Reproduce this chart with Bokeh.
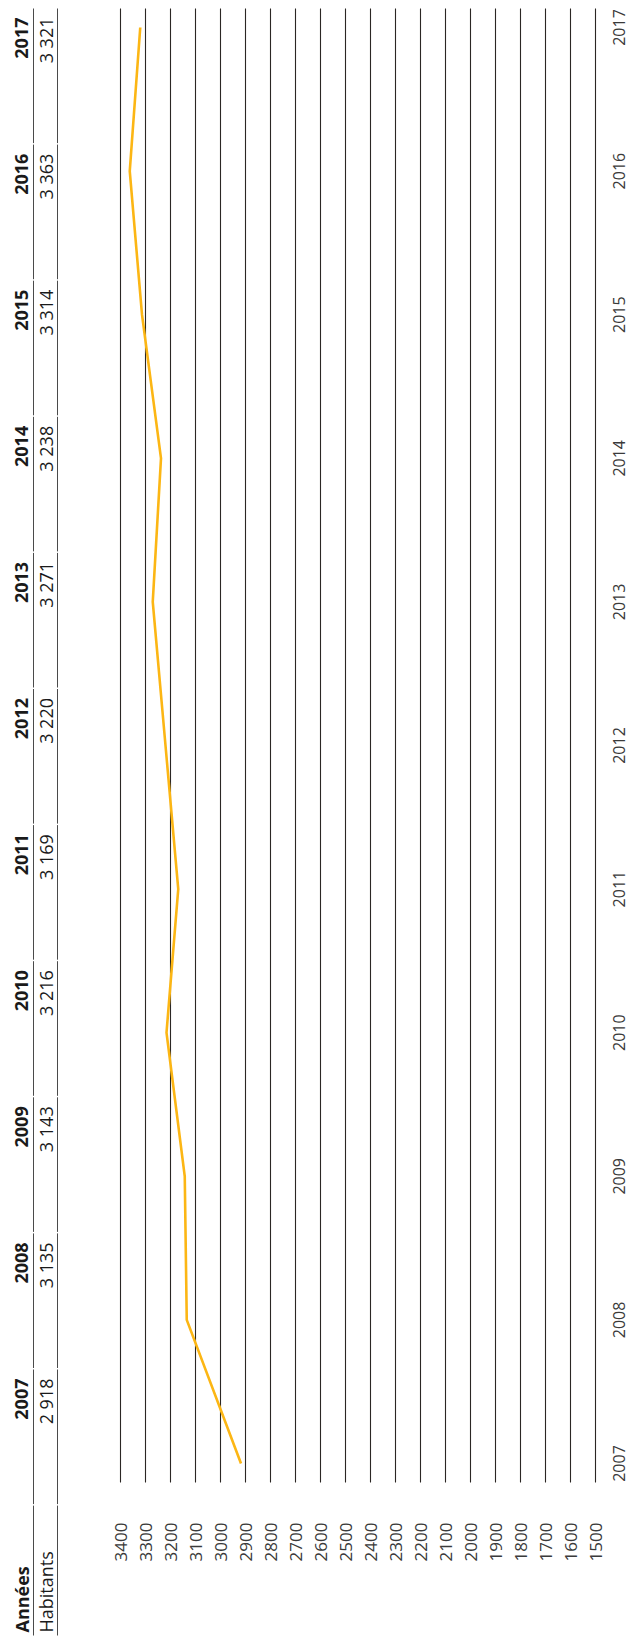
from math import pi
from bokeh.plotting import figure
from bokeh.models import Range1d
from bokeh.core.properties import value
from bokeh.embed import file_html
from bokeh.resources import INLINE

# ---------------- data ----------------
years = [2007, 2008, 2009, 2010, 2011, 2012, 2013, 2014, 2015, 2016, 2017]
habitants = [2918, 3135, 3143, 3216, 3169, 3220, 3271, 3238, 3314, 3363, 3321]
habitant_labels = ["2 918", "3 135", "3 143", "3 216", "3 169", "3 220",
                   "3 271", "3 238", "3 314", "3 363", "3 321"]
year_labels = ["2007", "2008", "2009", "2010", "2011", "2012",
               "2013", "2014", "2015", "2016", "2017"]
tick_values = [3400, 3300, 3200, 3100, 3000, 2900, 2800, 2700, 2600, 2500,
               2400, 2300, 2200, 2100, 2000, 1900, 1800, 1700, 1600, 1500]
tick_labels = [str(t) for t in tick_values]
header_years = "Années"
header_hab = "Habitants"

# ---------------- layout (pixels from the page's top-left) ----------------
W, H = 630, 1641
PX_PER_UNIT = 0.25          # horizontal px per inhabitant
X_PX_3400 = 120             # px from left of the 3400 line
PX_PER_YEAR = 143.6
Y_PX_2007 = 1463            # px from top of year 2007
TAB_PX_PER_COL = 136.1
TAB_PX_2017 = 17            # px from top where 2017 column text ends

x_start = 3400 + X_PX_3400 / PX_PER_UNIT
x_end = x_start - W / PX_PER_UNIT
y_top = 2007 + Y_PX_2007 / PX_PER_YEAR
y_bot = y_top - H / PX_PER_YEAR
ty_top = 2017 + TAB_PX_2017 / TAB_PX_PER_COL
ty_bot = ty_top - H / TAB_PX_PER_COL


def xv(px):
    return x_start - px / PX_PER_UNIT


def yv(px):
    return y_top - px / PX_PER_YEAR


def tv(px):
    return ty_top - px / TAB_PX_PER_COL


FONT = value("Open Sans")
AXIS_FS = "17px"
YEAR_FS = "16px"
TAB_FS = "18px"

p = figure(width=W, height=H, x_range=Range1d(x_start, x_end),
           y_range=Range1d(y_bot, y_top), output_backend="svg",
           toolbar_location=None, x_axis_location=None, y_axis_location=None,
           min_border=0)
p.grid.visible = False
p.outline_line_color = None
p.background_fill_color = "white"
p.border_fill_color = "white"
p.extra_y_ranges = {"table": Range1d(ty_bot, ty_top)}

# grid lines
n = len(tick_values)
p.segment(x0=tick_values, x1=tick_values, y0=[yv(1482)] * n, y1=[yv(8)] * n,
          line_color="#2b2724", line_width=1.1)

# data line (values run horizontally, years vertically)
p.line(x=habitants, y=years, line_color="#FCB614", line_width=2.6)

# value labels
p.text(x=tick_values, y=[yv(1522)] * n, text=tick_labels, angle=pi / 2,
       text_align="right", text_baseline="middle", text_font=FONT,
       text_font_size=AXIS_FS, text_color="#3a3a3a")

# year labels along the right edge
p.text(x=[xv(618)] * len(years), y=years, text=year_labels, angle=pi / 2,
       text_align="center", text_baseline="middle", text_font=FONT,
       text_font_size=YEAR_FS, text_color="#3a3a3a")

# ---------------- table ----------------
gap = 1.5 / TAB_PX_PER_COL
edge = 9 / TAB_PX_PER_COL
col_top = [y + edge for y in years] + [years[0] - 1 + edge]
col_bot = [y - 1 + edge + gap for y in years] + [tv(1635)]
for lx in (xv(33), xv(57)):
    p.segment(x0=[lx] * len(col_top), x1=[lx] * len(col_top), y0=col_bot,
              y1=col_top, line_color="#4a4a4a", line_width=1,
              y_range_name="table")

p.text(x=[xv(21)] * len(years), y=years, text=year_labels, angle=pi / 2,
       text_align="right", text_baseline="middle", text_font=FONT,
       text_font_size=TAB_FS, text_font_style="bold", text_color="#1a1a1a",
       y_range_name="table")
p.text(x=[xv(45)] * len(years), y=years, text=habitant_labels, angle=pi / 2,
       text_align="right", text_baseline="middle", text_font=FONT,
       text_font_size=TAB_FS, text_color="#1a1a1a", y_range_name="table")

p.text(x=[xv(21)], y=[tv(1632)], text=[header_years], angle=pi / 2,
       text_align="left", text_baseline="middle", text_font=FONT,
       text_font_size=TAB_FS, text_font_style="bold", text_color="#1a1a1a",
       y_range_name="table")
p.text(x=[xv(45)], y=[tv(1632)], text=[header_hab], angle=pi / 2,
       text_align="left", text_baseline="middle", text_font=FONT,
       text_font_size=TAB_FS, text_color="#1a1a1a", y_range_name="table")

open("out.html", "w").write(file_html(p, INLINE))
